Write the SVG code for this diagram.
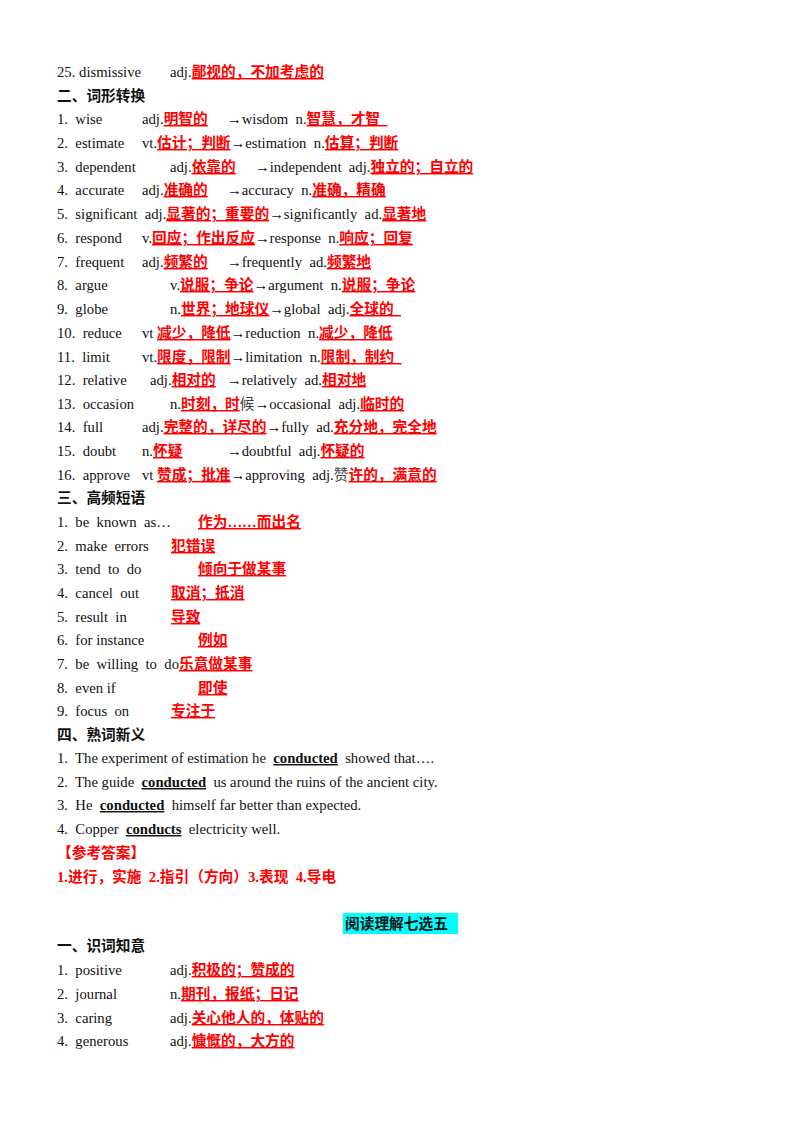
<svg xmlns="http://www.w3.org/2000/svg" width="800" height="1132" viewBox="0 0 800 1132">
<style>
text{font-family:"Liberation Serif","Noto Sans CJK SC",serif;font-size:14.7px;fill:#111;white-space:pre}
.r{fill:#ff0000;font-weight:bold;text-decoration:underline}
.h{font-weight:bold;font-size:14.7px}
.b{font-weight:bold;text-decoration:underline}
.a{fill:#ff0000;font-weight:bold}
</style>
<rect width="800" height="1132" fill="#fff"/>
<g id="sec1">
<text x="57" y="77">25. dismissive<tspan x="170">adj.</tspan><tspan class="r">鄙视的，不加考虑的</tspan></text>
</g>
<g id="sec2">
<text class="h" x="57" y="101">二、词形转换</text>
<text x="57" y="124">1.  wise<tspan x="142">adj.</tspan><tspan class="r">明智的</tspan><tspan x="227">→wisdom  n.</tspan><tspan class="r">智慧，才智  </tspan></text>
<text x="57" y="148">2.  estimate<tspan x="142">vt.</tspan><tspan class="r">估计；判断</tspan><tspan>→estimation  n.</tspan><tspan class="r">估算；判断</tspan></text>
<text x="57" y="172">3.  dependent<tspan x="170">adj.</tspan><tspan class="r">依靠的</tspan><tspan x="255">→independent  adj.</tspan><tspan class="r">独立的；自立的</tspan></text>
<text x="57" y="195">4.  accurate<tspan x="142">adj.</tspan><tspan class="r">准确的</tspan><tspan x="227">→accuracy  n.</tspan><tspan class="r">准确，精确</tspan></text>
<text x="57" y="219">5.  significant  adj.<tspan class="r">显著的；重要的</tspan><tspan>→significantly  ad.</tspan><tspan class="r">显著地</tspan></text>
<text x="57" y="243">6.  respond<tspan x="142">v.</tspan><tspan class="r">回应；作出反应</tspan><tspan>→response  n.</tspan><tspan class="r">响应；回复</tspan></text>
<text x="57" y="267">7.  frequent<tspan x="142">adj.</tspan><tspan class="r">频繁的</tspan><tspan x="227">→frequently  ad.</tspan><tspan class="r">频繁地</tspan></text>
<text x="57" y="290">8.  argue<tspan x="170">v.</tspan><tspan class="r">说服；争论</tspan><tspan>→argument  n.</tspan><tspan class="r">说服；争论</tspan></text>
<text x="57" y="314">9.  globe<tspan x="170">n.</tspan><tspan class="r">世界；地球仪</tspan><tspan>→global  adj.</tspan><tspan class="r">全球的  </tspan></text>
<text x="57" y="338">10.  reduce<tspan x="142">vt </tspan><tspan class="r">减少，降低</tspan><tspan>→reduction  n.</tspan><tspan class="r">减少，降低</tspan></text>
<text x="57" y="362">11.  limit<tspan x="142">vt.</tspan><tspan class="r">限度，限制</tspan><tspan>→limitation  n.</tspan><tspan class="r">限制，制约  </tspan></text>
<text x="57" y="385">12.  relative<tspan x="150">adj.</tspan><tspan class="r">相对的</tspan><tspan x="227">→relatively  ad.</tspan><tspan class="r">相对地</tspan></text>
<text x="57" y="409">13.  occasion<tspan x="170">n.</tspan><tspan class="r">时刻，时</tspan><tspan fill="#444">候</tspan><tspan>→occasional  adj.</tspan><tspan class="r">临时的</tspan></text>
<text x="57" y="432">14.  full<tspan x="142">adj.</tspan><tspan class="r">完整的，详尽的</tspan><tspan>→fully  ad.</tspan><tspan class="r">充分地，完全地</tspan></text>
<text x="57" y="456">15.  doubt<tspan x="142">n.</tspan><tspan class="r">怀疑</tspan><tspan x="227">→doubtful  adj.</tspan><tspan class="r">怀疑的</tspan></text>
<text x="57" y="480">16.  approve<tspan x="142">vt </tspan><tspan class="r">赞成；批准</tspan><tspan>→approving  adj.</tspan><tspan fill="#444">赞</tspan><tspan class="r">许的，满意的</tspan></text>
</g>
<g id="sec3">
<text class="h" x="57" y="503">三、高频短语</text>
<text x="57" y="527">1.  be  known  as…<tspan x="198" class="r">作为……而出名</tspan></text>
<text x="57" y="551">2.  make  errors<tspan x="171" class="r">犯错误</tspan></text>
<text x="57" y="574">3.  tend  to  do<tspan x="198" class="r">倾向于做某事</tspan></text>
<text x="57" y="598">4.  cancel  out<tspan x="171" class="r">取消；抵消</tspan></text>
<text x="57" y="622">5.  result  in<tspan x="171" class="r">导致</tspan></text>
<text x="57" y="645">6.  for instance<tspan x="198" class="r">例如</tspan></text>
<text x="57" y="669">7.  be  willing  to  do<tspan class="r">乐意做某事</tspan></text>
<text x="57" y="693">8.  even if<tspan x="198" class="r">即使</tspan></text>
<text x="57" y="716">9.  focus  on<tspan x="171" class="r">专注于</tspan></text>
</g>
<g id="sec4">
<text class="h" x="57" y="740">四、熟词新义</text>
<text x="57" y="763">1.  The experiment of estimation he  <tspan class="b">conducted</tspan>  showed that….</text>
<text x="57" y="787">2.  The guide  <tspan class="b">conducted</tspan>  us around the ruins of the ancient city.</text>
<text x="57" y="810">3.  He  <tspan class="b">conducted</tspan>  himself far better than expected.</text>
<text x="57" y="834">4.  Copper  <tspan class="b">conducts</tspan>  electricity well.</text>
<text class="a" x="57" y="858">【参考答案】</text>
<text class="a" x="57" y="882">1.进行，实施  2.指引（方向）3.表现  4.导电</text>
</g>
<g id="sec5">
<rect x="343" y="913" width="115" height="21" fill="#00ffff"/>
<text class="h" x="345" y="929">阅读理解七选五</text>
<text class="h" x="57" y="951">一、识词知意</text>
<text x="57" y="975">1.  positive<tspan x="170">adj.</tspan><tspan class="r">积极的；赞成的</tspan></text>
<text x="57" y="999">2.  journal<tspan x="170">n.</tspan><tspan class="r">期刊，报纸；日记</tspan></text>
<text x="57" y="1023">3.  caring<tspan x="170">adj.</tspan><tspan class="r">关心他人的，体贴的</tspan></text>
<text x="57" y="1046">4.  generous<tspan x="170">adj.</tspan><tspan class="r">慷慨的，大方的</tspan></text>
</g>
</svg>
